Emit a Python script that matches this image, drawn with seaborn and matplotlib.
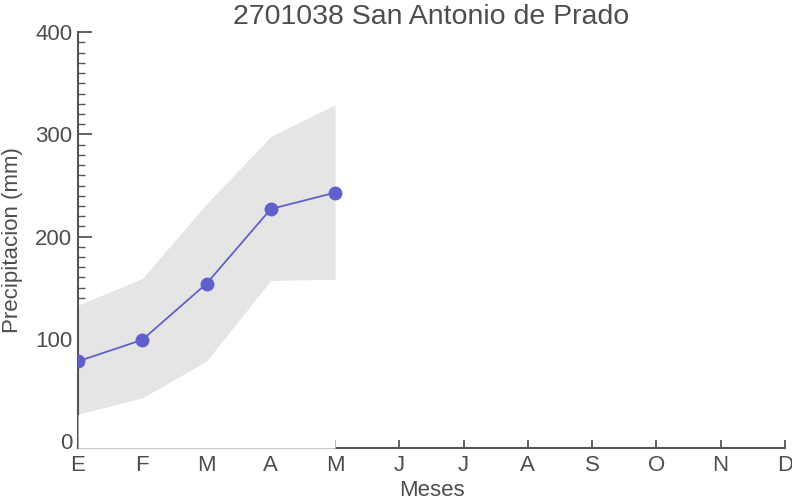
import numpy as np
import pandas as pd
import matplotlib
matplotlib.use("Agg")
import matplotlib.pyplot as plt
from matplotlib.ticker import MultipleLocator
import seaborn as sns

sns.set_style("white")
plt.rcParams['font.family'] = ['Liberation Sans', 'DejaVu Sans']

meses = ['E', 'F', 'M', 'A', 'M', 'J', 'J', 'A', 'S', 'O', 'N', 'D']
media = [78, 99, 154, 227, 243]
maximo = [133, 159, 232, 298, 329]
minimo = [26, 42, 78, 157, 158]

df = pd.DataFrame({'mes': np.arange(len(media)), 'precip': media})

gris_texto = '#4d4d4d'
fig = plt.figure(figsize=(7.92, 5.03), dpi=100)
ax = fig.add_axes([0.0985, 0.109, 0.8925, 0.827])

ax.fill_between(df['mes'], minimo, maximo, color='#e5e5e5', linewidth=0, zorder=1)
# banda blanca bajo el minimo, tapa los ticks y medio eje
ax.fill_between(df['mes'], -7, minimo, color='white',
                linewidth=0, zorder=4)
sns.lineplot(data=df, x='mes', y='precip', ax=ax, color='#6060cc',
             marker='o', markersize=10, markeredgewidth=0, linewidth=1.3,
             zorder=3)

ax.set_xlim(0, 11)
ax.set_ylim(-7, 400)
ax.set_xticks(range(12))
ax.set_xticklabels(meses)
ax.set_yticks([0, 100, 200, 300, 400])
ax.yaxis.set_minor_locator(MultipleLocator(10))

for s in ['top', 'right']:
    ax.spines[s].set_visible(False)
for s in ['left', 'bottom']:
    ax.spines[s].set_color('#555555')
    ax.spines[s].set_linewidth(1.5)

ax.tick_params(axis='x', which='major', direction='in', length=6, bottom=True,
               width=1.3, color='#555555', labelsize=16, labelcolor=gris_texto,
               pad=5)
ax.tick_params(axis='y', which='major', direction='in', length=10, left=True,
               width=1.3, color='#555555', labelsize=16, labelcolor=gris_texto,
               pad=4)
ax.tick_params(axis='y', which='minor', direction='in', length=5,
               width=1.0, color='#555555', left=True)

ax.set_title('2701038 San Antonio de Prado', fontsize=20.5, color=gris_texto, pad=6)
ax.set_xlabel('Meses', fontsize=16, color=gris_texto, labelpad=3)
ax.set_ylabel('Precipitacion (mm)', fontsize=16, color=gris_texto, labelpad=9)

fig.savefig('out.png', dpi=100)
